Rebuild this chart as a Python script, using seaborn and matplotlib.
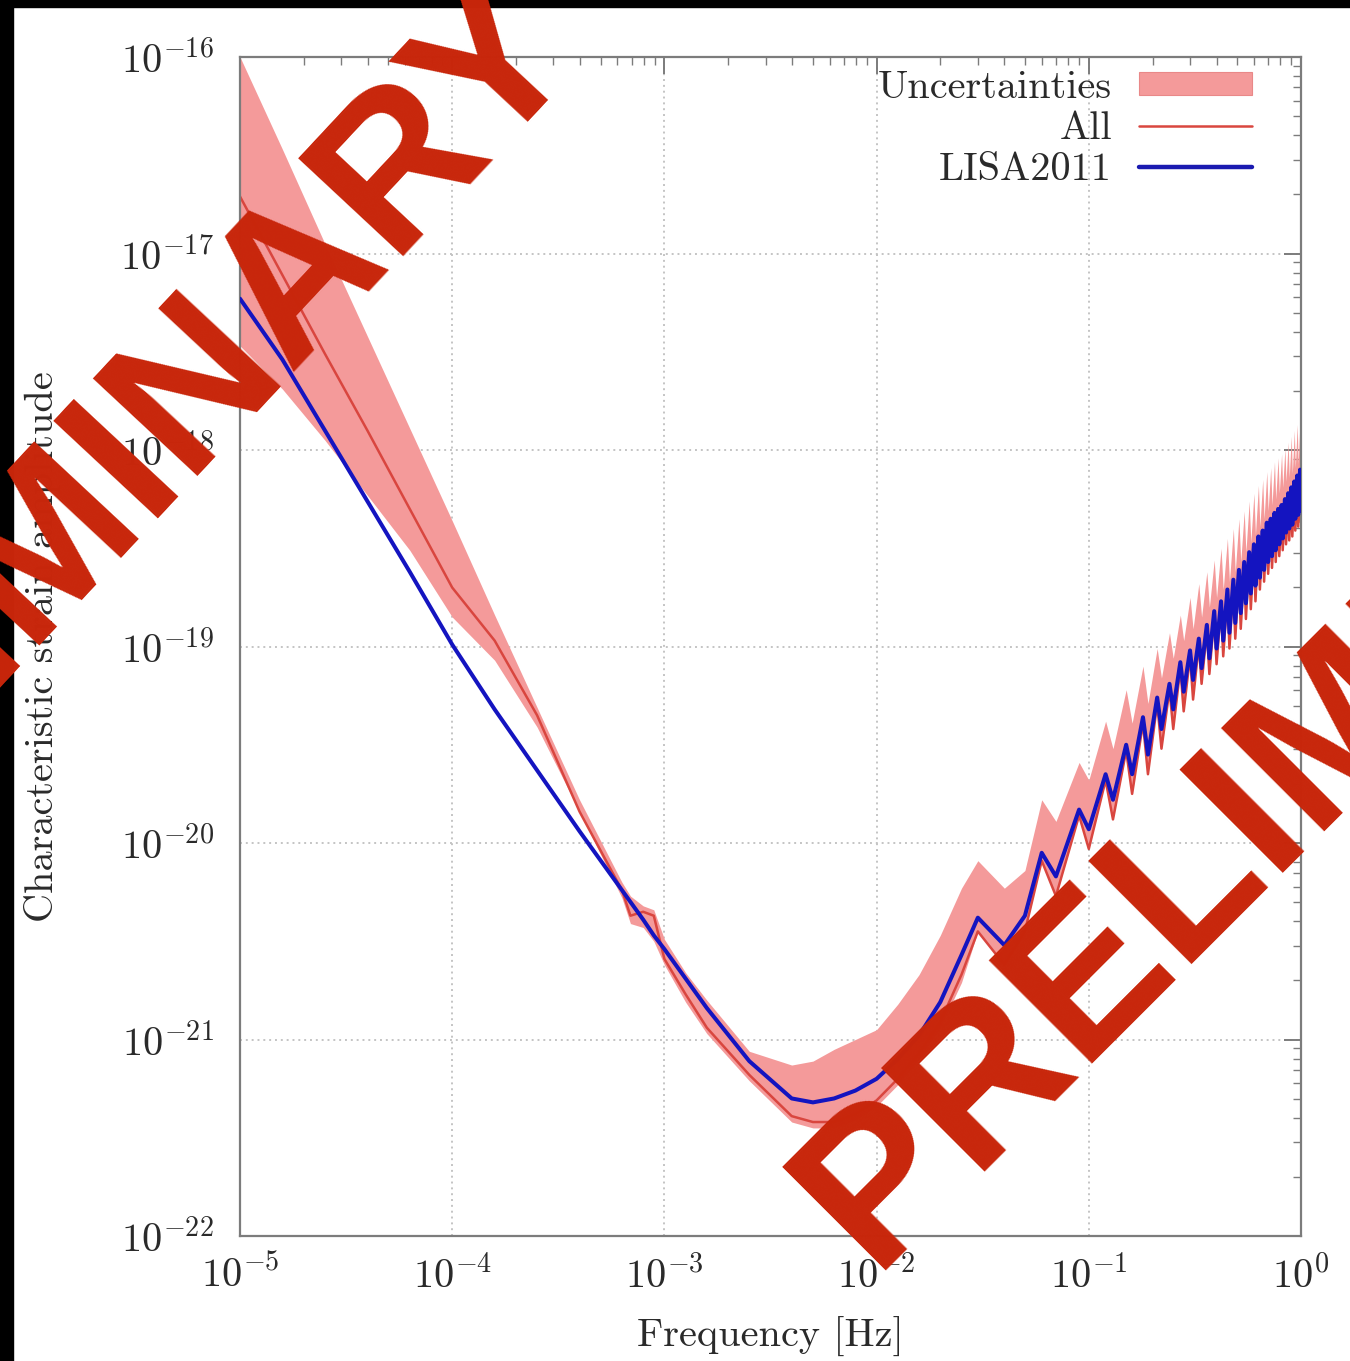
import numpy as np
import matplotlib
matplotlib.use("Agg")
import matplotlib.pyplot as plt
import seaborn as sns
from matplotlib.patches import Patch, Rectangle
from matplotlib.lines import Line2D
from matplotlib.ticker import FixedLocator, FixedFormatter, LogLocator, NullFormatter

# ---------------- data (log10 values) ----------------
# low-frequency part: log10(frequency)
log_f_low = [-5.0, -4.8, -4.6, -4.4, -4.2, -4.0, -3.8, -3.6, -3.4, -3.2, -3.16, -3.1, -3.05,
             -3.0, -2.9, -2.8, -2.6, -2.4, -2.3, -2.2, -2.1, -2.0, -1.9, -1.8, -1.7, -1.6]
lisa_low = [-17.23, -17.54, -17.90, -18.26, -18.62, -18.99, -19.32, -19.63, -19.94, -20.24, -20.30,
            -20.39, -20.47, -20.54, -20.69, -20.84, -21.11, -21.30, -21.32, -21.30, -21.26, -21.20,
            -21.10, -20.98, -20.81, -20.57]
all_low = [-16.71, -17.11, -17.51, -17.90, -18.30, -18.70, -18.97, -19.35, -19.84, -20.24, -20.37,
           -20.35, -20.37, -20.59, -20.77, -20.94, -21.18, -21.39, -21.42, -21.42, -21.38, -21.31,
           -21.20, -21.07, -20.91, -20.67]
unc_hi_low = [-16.00, -16.47, -16.95, -17.42, -17.89, -18.36, -18.84, -19.31, -19.78, -20.20, -20.27,
              -20.32, -20.34, -20.49, -20.66, -20.80, -21.06, -21.13, -21.11, -21.05, -21.00, -20.95,
              -20.82, -20.67, -20.47, -20.23]
unc_lo_low = [-17.47, -17.69, -17.95, -18.23, -18.51, -18.85, -19.07, -19.41, -19.84, -20.28, -20.41,
              -20.43, -20.50, -20.62, -20.81, -20.97, -21.21, -21.42, -21.45, -21.45, -21.41, -21.34,
              -21.23, -21.10, -20.94, -20.71]

# high-frequency part (transfer-function teeth): frequency in Hz
hf_freq = [0.03, 0.04, 0.05, 0.06, 0.07,
           0.09, 0.10, 0.12, 0.13, 0.15, 0.16, 0.18, 0.19, 0.21, 0.22, 0.24, 0.25,
           0.27, 0.28, 0.30, 0.31, 0.33, 0.34, 0.36, 0.37, 0.39, 0.40, 0.42, 0.43,
           0.45, 0.46, 0.48, 0.49, 0.51, 0.52, 0.54, 0.55, 0.57, 0.58, 0.60, 0.61,
           0.63, 0.64, 0.66, 0.67, 0.69, 0.70, 0.72, 0.73, 0.75, 0.76, 0.78, 0.79,
           0.81, 0.82, 0.84, 0.85, 0.87, 0.88, 0.90, 0.91, 0.93, 0.94, 0.96, 0.97,
           0.99, 1.00]
lisa_hf = [-20.38, -20.52, -20.37, -20.05, -20.17,
           -19.83, -19.93, -19.65, -19.78, -19.50, -19.65, -19.36, -19.55, -19.26, -19.42, -19.19, -19.32,
           -19.08, -19.23, -19.02, -19.17, -18.96, -19.11, -18.89, -19.06, -18.82, -19.01, -18.77, -18.97,
           -18.71, -18.93, -18.66, -18.88, -18.61, -18.83, -18.57, -18.78, -18.52, -18.73, -18.48, -18.69,
           -18.44, -18.65, -18.41, -18.61, -18.37, -18.57, -18.35, -18.54, -18.32, -18.51, -18.30, -18.48,
           -18.28, -18.45, -18.25, -18.42, -18.22, -18.40, -18.19, -18.38, -18.16, -18.35, -18.13, -18.33,
           -18.10, -18.31]
all_hf = [-20.45, -20.62, -20.45, -20.09, -20.27,
          -19.86, -20.03, -19.68, -19.88, -19.53, -19.75, -19.39, -19.65, -19.29, -19.52, -19.22, -19.42,
          -19.11, -19.33, -19.05, -19.27, -18.99, -19.19, -18.92, -19.14, -18.85, -19.09, -18.80, -19.05,
          -18.74, -19.01, -18.69, -18.96, -18.64, -18.91, -18.60, -18.86, -18.55, -18.81, -18.51, -18.77,
          -18.47, -18.71, -18.44, -18.67, -18.40, -18.63, -18.38, -18.60, -18.35, -18.57, -18.33, -18.54,
          -18.31, -18.51, -18.28, -18.48, -18.25, -18.46, -18.22, -18.44, -18.19, -18.41, -18.16, -18.39,
          -18.13, -18.37]
unc_hi_hf = [-20.09, -20.23, -20.14, -19.78, -19.89,
             -19.59, -19.68, -19.38, -19.52, -19.22, -19.39, -19.10, -19.29, -19.01, -19.16, -18.93, -19.06,
             -18.84, -18.97, -18.75, -18.91, -18.68, -18.85, -18.62, -18.80, -18.56, -18.75, -18.50, -18.71,
             -18.45, -18.67, -18.40, -18.62, -18.35, -18.57, -18.31, -18.52, -18.26, -18.47, -18.22, -18.43,
             -18.18, -18.39, -18.15, -18.35, -18.11, -18.31, -18.09, -18.28, -18.06, -18.25, -18.04, -18.22,
             -18.02, -18.19, -17.99, -18.16, -17.96, -18.14, -17.93, -18.12, -17.90, -18.09, -17.87, -18.07,
             -17.84, -18.05]

x_ticks = [1e-5, 1e-4, 1e-3, 1e-2, 1e-1, 1e0]
x_tick_labels = [r"$10^{-5}$", r"$10^{-4}$", r"$10^{-3}$", r"$10^{-2}$", r"$10^{-1}$", r"$10^{0}$"]
y_ticks = [1e-22, 1e-21, 1e-20, 1e-19, 1e-18, 1e-17, 1e-16]
y_tick_labels = [r"$10^{-22}$", r"$10^{-21}$", r"$10^{-20}$", r"$10^{-19}$", r"$10^{-18}$",
                 r"$10^{-17}$", r"$10^{-16}$"]
legend_labels = ["Uncertainties", "All", "LISA2011"]

freq = np.concatenate([10.0 ** np.array(log_f_low), np.array(hf_freq)])
lisa = 10.0 ** np.concatenate([lisa_low, lisa_hf])
allc = 10.0 ** np.concatenate([all_low, all_hf])
unc_hi = 10.0 ** np.concatenate([unc_hi_low, unc_hi_hf])
unc_lo = 10.0 ** np.concatenate([unc_lo_low, all_hf])

# ---------------- style ----------------
sns.set_theme(style="white")
plt.rcParams["font.family"] = ["cmr10", "DejaVu Serif"]
plt.rcParams["mathtext.fontset"] = "cm"
plt.rcParams["axes.unicode_minus"] = False
plt.rcParams["axes.formatter.use_mathtext"] = True

BAND = "#f49a9a"
RED = "#d9463f"
BLUE = "#1414c0"
GRAY = "#7c7c7c"
TXT = "#2a2a2a"

W, H = 1350, 1361
fig = plt.figure(figsize=(W / 100, H / 100), dpi=100)
fig.patch.set_facecolor("white")
ax = fig.add_axes([240 / W, 1 - 1236 / H, (1301 - 240) / W, (1236 - 57) / H])
ax.set_xscale("log")
ax.set_yscale("log")

ax.fill_between(freq, unc_lo, unc_hi, color=BAND, lw=0, zorder=1)
sns.lineplot(x=freq, y=allc, ax=ax, color=RED, lw=1.8, sort=False, estimator=None,
             legend=False, zorder=2)
sns.lineplot(x=freq, y=lisa, ax=ax, color=BLUE, lw=2.9, sort=False, estimator=None,
             legend=False, zorder=3)

ax.set_xlim(1e-5, 1e0)
ax.set_ylim(1e-22, 1e-16)

ax.xaxis.set_major_locator(FixedLocator(x_ticks))
ax.xaxis.set_major_formatter(FixedFormatter(x_tick_labels))
ax.yaxis.set_major_locator(FixedLocator(y_ticks))
ax.yaxis.set_major_formatter(FixedFormatter(y_tick_labels))
ax.xaxis.set_minor_locator(LogLocator(base=10, subs=np.arange(2, 10), numticks=100))
ax.yaxis.set_minor_locator(LogLocator(base=10, subs=np.arange(2, 10), numticks=100))
ax.xaxis.set_minor_formatter(NullFormatter())
ax.yaxis.set_minor_formatter(NullFormatter())

ax.tick_params(which="both", direction="in", top=True, right=True, colors=GRAY,
               labelcolor=TXT)
ax.tick_params(which="major", length=12, width=1.4, labelsize=29)
ax.tick_params(which="minor", length=6, width=1.0)
ax.tick_params(axis="y", which="major", pad=19)
ax.tick_params(axis="x", which="major", pad=14)

ax.grid(True, which="major", linestyle=(0, (1, 2)), color="#c4c4c4", lw=1.4)
ax.set_axisbelow(True)
for s in ax.spines.values():
    s.set_color(GRAY)
    s.set_linewidth(1.6)

ax.set_xlabel("Frequency [Hz]", fontsize=29, color=TXT, va="center")
ax.xaxis.set_label_coords(0.5, -0.0857)
ax.set_ylabel("Characteristic strain amplitude", fontsize=29, color=TXT, va="center")
ax.yaxis.set_label_coords(-0.1866, 0.5)

handles = [Patch(facecolor=BAND, edgecolor="#e98888", lw=0.8),
           Line2D([], [], color=RED, lw=1.8),
           Line2D([], [], color="#1a1ab0", lw=3.2)]
leg = ax.legend(handles, legend_labels, loc="upper right",
                bbox_to_anchor=((1252 - 240) / 1061, (1236 - 70) / 1179),
                frameon=False, markerfirst=False, fontsize=29, handlelength=2.8,
                handleheight=0.5, handletextpad=0.68, labelspacing=0.13,
                borderpad=0, borderaxespad=0)
for t in leg.get_texts():
    t.set_color(TXT)

# black photo border (left & top)
fig.patches.append(Rectangle((0, 1 - 7 / H), 1, 7 / H, transform=fig.transFigure,
                             color="black", zorder=20))
fig.patches.append(Rectangle((0, 0), 13 / W, 1, transform=fig.transFigure,
                             color="black", zorder=20))

# watermark
WM = "#c8260b"
fig.text(872 / W, 1 - 1270 / H, "PRELIMINARY", rotation=45, rotation_mode="anchor",
         ha="left", va="baseline", fontsize=152, fontweight="bold", family="Liberation Sans",
         color=WM, zorder=30)
fig.text(582 / W, 1 - 50 / H, "PRELIMINARY", rotation=47, rotation_mode="anchor",
         ha="right", va="baseline", fontsize=150, fontweight="bold", family="Liberation Sans",
         color=WM, zorder=30)

fig.savefig("out.png", dpi=100)
